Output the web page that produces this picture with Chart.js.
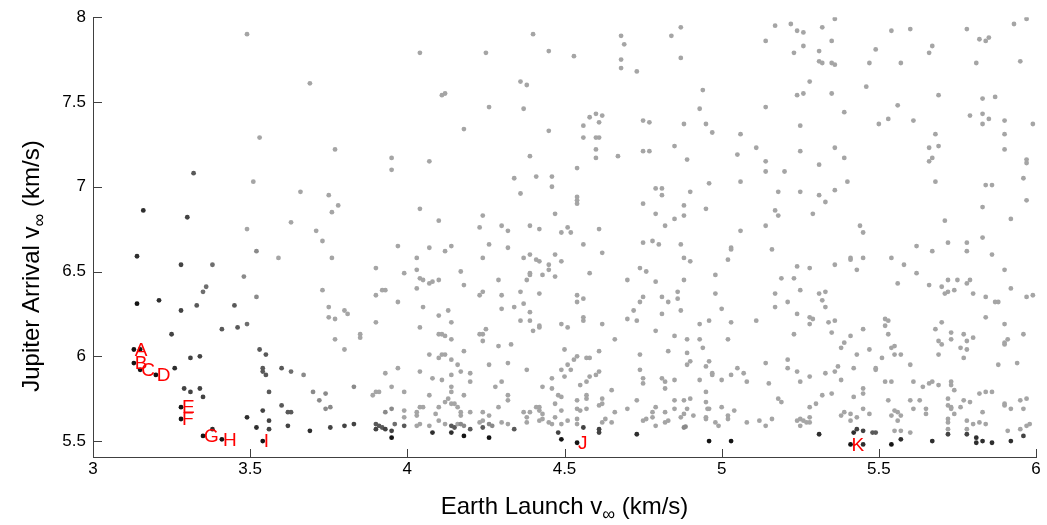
<!DOCTYPE html>
<html>
<head>
<meta charset="utf-8">
<script src="https://cdn.jsdelivr.net/npm/chart.js@4.4.1/dist/chart.umd.min.js"></script>
<style>
html,body{margin:0;padding:0;background:#fff;}
#wrap{width:1047px;height:525px;position:relative;}
</style>
</head>
<body>
<div id="wrap"><canvas id="c" width="1047" height="525"></canvas></div>
<script>
// ---------- data ----------
const xTicks = [3, 3.5, 4, 4.5, 5, 5.5, 6];
const yTicks = [5.5, 6, 6.5, 7, 7.5, 8];
const xTitle = ['Earth Launch v', '\u221E', ' (km/s)'];
const yTitle = ['Jupiter Arrival v', '\u221E', ' (km/s)'];

const frontLabels = ['A','B','C','D','E','F','G','H','I','J','K'];
const frontX = [3.13, 3.13, 3.15, 3.20, 3.28, 3.28, 3.35, 3.41, 3.54, 4.54, 5.41];
const frontY = [6.04, 5.96, 5.92, 5.89, 5.70, 5.63, 5.53, 5.51, 5.50, 5.49, 5.48];

const blackPts = [[3.13,6.04],[3.15,6.04],[3.13,5.96],[3.15,5.92],[3.20,5.89],[3.28,5.70],[3.28,5.63],[3.35,5.53],[3.41,5.51],[3.54,5.50],[3.14,6.31],[3.95,5.52],[4.18,5.53],[4.26,5.52],[4.49,5.51],[4.54,5.49],[4.96,5.50],[5.03,5.50],[5.41,5.48],[5.54,5.48]];
const dark1Pts = [[3.16,6.86],[3.14,6.59],[3.21,6.33],[3.26,5.93],[3.49,5.64],[3.52,5.58],[3.69,5.56],[4.08,5.55],[4.14,5.55],[4.73,5.54],[5.31,5.54],[5.42,5.55],[5.45,5.48],[5.57,5.51],[5.67,5.50],[5.81,5.52],[5.81,5.49],[5.83,5.50],[5.86,5.49],[5.92,5.50],[3.38,5.57]];
const dark2Pts = [[3.30,6.82],[3.28,6.54],[3.28,6.27],[3.25,6.13],[3.31,5.99],[3.34,6.00],[3.29,5.81],[3.31,5.79],[3.34,5.81],[3.35,5.76],[3.54,5.68],[3.56,5.62],[3.56,5.57],[3.62,5.59],[3.755,5.58],[3.80,5.59],[3.83,5.60],[3.90,5.57],[3.93,5.57],[3.95,5.56],[4.48,5.55],[4.56,5.58],[4.61,5.57],[4.61,5.55],[5.43,5.57],[5.45,5.56],[5.72,5.54],[5.78,5.54],[5.96,5.53]];
const midPts = [[3.32,7.08],[3.33,6.30],[3.45,6.30],[3.41,6.16],[3.46,6.17],[3.53,6.04],[3.55,6.01],[3.54,5.93],[3.54,5.91],[3.55,5.89],[3.56,5.79],[3.60,5.93],[3.60,5.71],[3.62,5.67],[3.63,5.67],[3.90,5.60],[3.91,5.59],[3.92,5.58],[3.99,5.59],[4.14,5.59],[4.15,5.58],[4.20,5.57],[4.24,5.58],[4.34,5.57],[5.48,5.55],[5.49,5.55]];
const mid2Pts = [[3.36,6.41],[3.35,6.38],[3.49,6.19],[3.63,5.91],[3.96,5.60],[3.38,6.54]];
const lightPts = [[3.67,5.89],[3.70,5.79],[3.72,5.74],[3.74,5.78],[3.74,5.69],[3.755,5.70],[3.48,6.47],[3.52,6.35],[3.52,6.62],[3.83,5.82],[3.93,5.67],[3.95,5.69],[4.17,5.60],[4.18,5.59],[4.26,5.60],[4.27,5.59],[4.88,5.58],[4.885,5.585]];
const grayPts = [
[3.49,7.90],[3.69,7.61],[3.53,7.29],
[4.40,7.90],[4.04,7.79],[4.25,7.79],[4.45,7.80],[4.36,7.62],[4.38,7.60],[4.11,7.54],[4.12,7.55],[4.26,7.47],[4.37,7.46],[4.18,7.34],[4.45,7.33],[3.77,7.22],[3.95,7.17],[4.07,7.15],[4.39,7.18],
[4.53,7.77],[4.68,7.89],[4.69,7.84],[4.68,7.75],[4.68,7.70],[4.73,7.68],[4.84,7.89],[4.87,7.94],[4.87,7.76],[5.17,7.95],[5.22,7.96],[5.24,7.92],[5.26,7.91],[5.14,7.86],[5.23,7.79],[5.26,7.83],[4.94,7.57],[4.93,7.46],[5.14,7.47],[5.24,7.54],[5.26,7.55],[4.58,7.41],[4.60,7.43],[4.62,7.42],[4.61,7.38],[4.56,7.36],[4.56,7.29],[4.60,7.29],[4.61,7.29],[4.60,7.22],[4.60,7.17],[4.67,7.18],[4.75,7.39],[4.77,7.38],[4.75,7.21],[4.77,7.21],[4.85,7.24],[4.88,7.37],[4.95,7.37],[4.97,7.32],[4.89,7.16],[5.06,7.31],[5.05,7.19],[5.11,7.23],[5.14,7.15],[5.25,7.36],[5.25,7.21],
[5.36,7.99],[5.32,7.94],[5.35,7.86],[5.31,7.80],[5.31,7.74],[5.32,7.73],[5.35,7.73],[5.36,7.72],[5.28,7.62],[5.35,7.55],[5.39,7.44],[5.36,7.23],[5.39,7.17],[5.31,7.13],[5.54,7.92],[5.60,7.93],[5.49,7.81],[5.47,7.73],[5.57,7.73],[5.46,7.59],[5.56,7.48],[5.50,7.37],[5.53,7.40],[5.61,7.39],[5.67,7.83],[5.66,7.79],[5.69,7.54],[5.68,7.31],[5.66,7.23],[5.69,7.24],[5.66,7.15],[5.67,7.17],[5.78,7.93],[5.82,7.87],[5.84,7.86],[5.85,7.88],[5.81,7.73],[5.93,7.96],[5.97,7.99],[5.95,7.74],[5.83,7.52],[5.87,7.53],[5.79,7.42],[5.83,7.43],[5.85,7.40],[5.83,7.37],[5.90,7.39],[5.90,7.31],[5.90,7.22],[5.99,7.37],[5.97,7.16],[5.97,7.14],
[3.51,7.03],[3.66,6.97],[3.75,6.95],[3.76,6.85],[3.49,6.75],[3.63,6.79],[3.71,6.74],[3.73,6.68],[3.59,6.58],[3.76,6.58],[3.73,6.39],[3.75,6.29],
[3.95,7.10],[3.78,6.89],[4.04,6.87],[4.10,6.80],[3.97,6.65],[3.90,6.52],[4.03,6.58],[4.07,6.64],[4.12,6.62],[4.14,6.65],[3.99,6.49],[4.03,6.51],[4.04,6.46],[4.05,6.45],[4.03,6.40],[4.07,6.43],[4.08,6.44],[4.10,6.45],[4.17,6.50],[4.18,6.42],[3.90,6.36],[3.92,6.39],[3.93,6.39],[3.97,6.32],[4.05,6.29],[3.80,6.27],[3.81,6.25],[4.13,6.27],[4.24,6.83],[4.23,6.76],[4.30,6.77],[4.32,6.74],[4.34,7.05],[4.36,6.96],[4.41,7.06],[4.46,7.06],[4.46,7.00],[4.47,6.84],[4.39,6.77],[4.42,6.75],[4.51,6.76],[4.49,6.73],[4.26,6.66],[4.32,6.64],[4.24,6.58],[4.37,6.58],[4.39,6.60],[4.41,6.57],[4.42,6.56],[4.45,6.54],[4.47,6.60],[4.49,6.56],[4.39,6.49],[4.39,6.48],[4.43,6.48],[4.45,6.51],[4.47,6.47],[4.29,6.45],[4.38,6.45],[4.24,6.38],[4.23,6.36],[4.30,6.36],[4.36,6.38],[4.42,6.37],[4.37,6.31],[4.30,6.28],[4.34,6.29],[4.39,6.26],
[4.54,7.11],[4.54,6.94],[4.54,6.92],[4.54,6.90],[4.52,6.73],[4.61,6.75],[4.56,6.66],[4.62,6.61],[4.58,6.49],[4.54,6.36],[4.54,6.32],[4.56,6.34],[4.79,6.99],[4.81,6.99],[4.81,6.95],[4.90,6.97],[4.96,7.02],[5.06,7.03],[5.14,7.09],[5.20,7.09],[5.18,6.97],[5.25,6.97],[4.75,6.90],[4.79,6.84],[4.88,6.89],[4.88,6.83],[4.85,6.81],[4.82,6.77],[4.95,6.87],[5.17,6.86],[5.18,6.83],[5.14,6.77],[5.06,6.74],[4.75,6.67],[4.78,6.68],[4.80,6.66],[4.87,6.66],[4.88,6.58],[4.90,6.56],[5.03,6.64],[5.03,6.63],[5.02,6.57],[5.16,6.63],[4.74,6.52],[4.76,6.50],[4.70,6.45],[4.79,6.44],[4.88,6.45],[4.98,6.48],[5.24,6.53],[5.23,6.46],[5.19,6.46],[5.25,6.39],[4.86,6.38],[4.75,6.35],[4.74,6.32],[4.81,6.35],[4.83,6.32],[4.86,6.34],[4.98,6.37],[5.17,6.37],[5.17,6.29],[5.21,6.32],[4.72,6.27],[4.87,6.27],[5.00,6.28],
[5.31,6.95],[5.36,6.98],[5.40,7.03],[5.33,6.91],[5.29,6.84],[5.44,6.77],[5.45,6.73],[5.68,7.03],[5.84,7.01],[5.86,7.01],[5.96,7.05],[5.97,6.92],[5.83,6.88],[5.92,6.81],[5.71,6.80],[5.72,6.67],[5.78,6.67],[5.78,6.62],[5.83,6.70],[5.86,6.60],[5.62,6.65],[5.67,6.62],[5.54,6.58],[5.58,6.54],[5.62,6.49],[5.56,6.43],[5.66,6.42],[5.70,6.41],[5.72,6.45],[5.75,6.45],[5.79,6.45],[5.78,6.43],[5.71,6.37],[5.72,6.38],[5.74,6.39],[5.80,6.37],[5.84,6.35],[5.87,6.32],[5.88,6.32],[5.90,6.51],[5.92,6.40],[5.97,6.35],[5.99,6.36],[5.28,6.52],[5.36,6.54],[5.41,6.58],[5.41,6.57],[5.45,6.58],[5.43,6.51],[5.31,6.37],[5.33,6.38],[5.32,6.33],[5.33,6.29],
[3.75,6.23],[3.77,6.22],[3.77,6.10],[3.80,6.04],[3.85,6.13],[3.85,6.11],[3.90,6.20],[3.89,5.77],[3.90,5.79],[3.91,5.79],[3.93,5.90],[3.97,5.93],[3.95,5.82],[3.99,5.79],[3.99,5.68],[3.99,5.64],[4.04,6.17],[4.10,6.24],[4.14,6.20],[4.10,6.13],[4.11,6.13],[4.12,6.12],[4.14,6.10],[4.18,6.03],[4.07,6.01],[4.10,5.99],[4.11,6.01],[4.12,6.01],[4.14,5.98],[4.16,5.95],[4.04,5.91],[4.14,5.89],[4.17,5.91],[4.20,5.90],[4.08,5.87],[4.11,5.86],[4.14,5.82],[4.14,5.79],[4.20,5.85],[4.18,5.77],[4.07,5.77],[4.13,5.75],[4.12,5.73],[4.14,5.72],[4.15,5.72],[4.10,5.70],[4.16,5.70],[4.04,5.70],[4.05,5.70],[4.03,5.67],[4.03,5.65],[4.09,5.66],[4.17,5.67],[4.17,5.65],[4.10,5.62],[4.12,5.60],[4.07,5.59],[4.03,5.59],[4.04,5.60],[4.16,5.60],[4.20,5.67],[4.23,5.61],[4.24,5.62],[4.24,5.67],[4.26,5.65],[4.30,5.61],[4.29,5.70],[4.28,5.82],[4.30,5.85],[4.26,5.95],[4.29,6.06],[4.25,6.16],[4.23,6.13],[4.24,6.13],[4.24,6.09],[4.33,6.07],[4.32,5.96],[4.36,6.21],[4.39,6.21],[4.42,6.18],[4.42,6.17],[4.40,6.15],[4.49,6.19],[4.51,6.17],[4.50,6.04],[4.51,5.95],[4.38,5.92],[4.32,5.77],[4.32,5.74],[4.43,5.82],[4.46,5.81],[4.46,5.87],[4.49,5.92],[4.50,5.88],[4.48,5.77],[4.49,5.76],[4.49,5.68],[4.47,5.72],[4.37,5.67],[4.38,5.64],[4.39,5.67],[4.41,5.70],[4.42,5.70],[4.42,5.68],[4.43,5.66],[4.38,5.61],[4.42,5.62],[4.43,5.63],[4.45,5.61],[4.46,5.60],[4.47,5.64],[4.49,5.60],[4.51,5.62],[4.32,5.60],
[4.56,6.23],[4.56,6.21],[4.62,6.19],[4.70,6.22],[4.73,6.21],[4.81,6.25],[4.66,6.10],[4.79,6.15],[4.93,6.19],[4.96,6.21],[5.03,6.20],[5.11,6.21],[5.24,6.25],[5.23,6.13],[4.85,6.12],[4.89,6.10],[4.93,6.10],[5.02,6.10],[4.94,6.05],[4.89,6.02],[4.83,6.03],[4.74,6.01],[4.61,6.03],[4.54,6.00],[4.53,5.98],[4.57,5.99],[4.58,5.99],[4.52,5.92],[4.61,5.91],[4.60,5.89],[4.58,5.88],[4.55,5.83],[4.57,5.85],[4.65,5.80],[4.57,5.77],[4.57,5.75],[4.54,5.74],[4.62,5.75],[4.62,5.72],[4.61,5.71],[4.54,5.69],[4.55,5.68],[4.57,5.69],[4.54,5.63],[4.54,5.60],[4.66,5.67],[4.63,5.63],[4.62,5.61],[4.65,5.61],[4.70,5.69],[4.73,5.74],[4.75,5.87],[4.75,5.84],[4.74,5.92],[4.75,5.62],[4.76,5.63],[4.78,5.67],[4.79,5.70],[4.78,5.64],[4.79,5.59],[4.81,5.87],[4.82,5.85],[4.82,5.81],[4.82,5.67],[4.82,5.61],[4.83,5.62],[4.85,5.86],[4.85,5.74],[4.85,5.69],[4.87,5.64],[4.88,5.66],[4.88,5.74],[4.89,5.69],[4.90,5.75],[4.89,5.95],[4.90,5.97],[4.91,5.65],[4.93,5.86],[4.95,5.94],[4.96,5.97],[4.97,5.90],[4.97,5.89],[4.95,5.79],[4.95,5.73],[4.955,5.69],[4.96,5.69],[4.95,5.64],[4.95,5.63],[4.98,5.61],[4.99,5.59],[5.00,5.70],[5.00,5.86],[5.03,5.89],[5.05,5.93],[5.07,5.90],[5.08,5.85],[5.02,5.65],[5.02,5.63],[5.04,5.68],[5.08,5.61],[5.12,5.62],[5.14,5.59],[5.16,5.63],[5.14,5.96],[5.15,5.84],[5.18,5.75],[5.19,5.73],[5.21,5.98],[5.21,5.93],[5.24,5.91],[5.25,5.85],[5.24,5.62],[5.25,5.59],[5.25,5.63],[5.26,5.62],
[5.28,6.23],[5.28,6.19],[5.29,6.22],[5.34,6.20],[5.36,6.21],[5.35,6.14],[5.41,6.12],[5.45,6.16],[5.39,6.08],[5.38,6.05],[5.43,6.01],[5.47,6.04],[5.51,5.99],[5.52,6.22],[5.53,6.21],[5.52,6.18],[5.53,6.13],[5.54,6.05],[5.55,6.06],[5.55,6.01],[5.57,6.01],[5.60,5.95],[5.68,6.16],[5.70,6.20],[5.69,6.09],[5.70,6.07],[5.69,6.01],[5.73,6.14],[5.73,6.10],[5.77,6.13],[5.78,6.09],[5.80,6.11],[5.76,6.05],[5.78,6.04],[5.77,5.99],[5.84,6.23],[5.90,6.19],[5.91,6.10],[5.90,6.08],[5.90,6.07],[5.96,6.13],[5.88,5.95],[5.94,5.96],[5.28,5.88],[5.33,5.90],[5.36,5.91],[5.37,5.94],[5.38,5.86],[5.42,5.93],[5.49,5.92],[5.49,5.93],[5.32,5.77],[5.35,5.78],[5.30,5.72],[5.28,5.70],[5.42,5.76],[5.45,5.81],[5.45,5.78],[5.45,5.69],[5.39,5.67],[5.38,5.65],[5.41,5.66],[5.41,5.62],[5.43,5.64],[5.47,5.66],[5.28,5.64],[5.28,5.61],[5.27,5.61],[5.52,5.85],[5.54,5.85],[5.53,5.74],[5.55,5.68],[5.56,5.67],[5.57,5.65],[5.56,5.62],[5.54,5.65],[5.55,5.56],[5.57,5.56],[5.60,5.55],[5.60,5.74],[5.61,5.69],[5.61,5.85],[5.63,5.74],[5.64,5.82],[5.65,5.69],[5.65,5.66],[5.66,5.84],[5.67,5.85],[5.69,5.83],[5.73,5.83],[5.73,5.85],[5.74,5.80],[5.72,5.75],[5.72,5.71],[5.73,5.70],[5.73,5.69],[5.74,5.66],[5.72,5.63],[5.72,5.61],[5.72,5.57],[5.76,5.70],[5.77,5.74],[5.79,5.73],[5.78,5.62],[5.78,5.57],[5.80,5.60],[5.82,5.61],[5.83,5.67],[5.84,5.60],[5.82,5.78],[5.84,5.79],[5.86,5.79],[5.90,5.72],[5.90,5.71],[5.92,5.69],[5.95,5.74],[5.97,5.75],[5.96,5.69],[5.91,5.56],[5.95,5.57],[5.97,5.59],[5.98,5.60]
];

// ---------- chart ----------
const FONT = "'Liberation Sans', Arial, Helvetica, sans-serif";
const toXY = arr => arr.map(p => ({x: p[0], y: p[1]}));
function ds(pts, color) {
  return { data: toXY(pts), backgroundColor: color, borderWidth: 0,
           pointRadius: 2.4, pointHoverRadius: 2.4, pointBorderWidth: 0 };
}

const axesPlugin = {
  id: 'matlabAxes',
  afterDraw(chart) {
    const ctx = chart.ctx, xs = chart.scales.x, ys = chart.scales.y;
    const L = xs.getPixelForValue(3), R = xs.getPixelForValue(6);
    const T = ys.getPixelForValue(8), B = ys.getPixelForValue(5.4);
    ctx.save();
    ctx.strokeStyle = '#404040';
    ctx.lineWidth = 1;
    ctx.beginPath();
    ctx.moveTo(Math.round(L) + 0.5, T);
    ctx.lineTo(Math.round(L) + 0.5, B);
    ctx.moveTo(L, Math.round(B) - 0.5);
    ctx.lineTo(R + 1, Math.round(B) - 0.5);
    xTicks.forEach(v => {
      const px = Math.round(xs.getPixelForValue(v)) + 0.5;
      ctx.moveTo(px, B); ctx.lineTo(px, B - 9);
    });
    yTicks.forEach(v => {
      const py = Math.round(ys.getPixelForValue(v)) + 0.5;
      ctx.moveTo(L, py); ctx.lineTo(L + 9, py);
    });
    ctx.stroke();

    // red front labels
    ctx.fillStyle = '#ff0000';
    ctx.font = '19px ' + FONT;
    ctx.textAlign = 'left';
    ctx.textBaseline = 'middle';
    frontLabels.forEach((t, i) => {
      ctx.fillText(t, xs.getPixelForValue(frontX[i]) + 1, ys.getPixelForValue(frontY[i]) + 1);
    });

    // axis titles with subscript infinity
    function drawTitle(parts, cx, baseY) {
      const big = '24px ' + FONT, small = '18px ' + FONT;
      ctx.font = big;
      const w0 = ctx.measureText(parts[0]).width;
      const w2 = ctx.measureText(parts[2]).width;
      ctx.font = small;
      const w1 = ctx.measureText(parts[1]).width;
      const total = w0 + w1 + w2;
      let x = cx - total / 2;
      ctx.fillStyle = '#000';
      ctx.textAlign = 'left';
      ctx.textBaseline = 'alphabetic';
      ctx.font = big;
      ctx.fillText(parts[0], x, baseY); x += w0;
      ctx.font = small;
      ctx.fillText(parts[1], x, baseY + 6); x += w1;
      ctx.font = big;
      ctx.fillText(parts[2], x, baseY);
    }
    drawTitle(xTitle, (L + R) / 2, 514);
    ctx.save();
    ctx.translate(39, 266);
    ctx.rotate(-Math.PI / 2);
    drawTitle(yTitle, 0, 0);
    ctx.restore();
    ctx.restore();
  }
};

new Chart(document.getElementById('c'), {
  type: 'scatter',
  data: {
    datasets: [
      ds(blackPts, '#141414'),
      ds(dark1Pts, '#2e2e2e'),
      ds(dark2Pts, '#434343'),
      ds(midPts, '#595959'),
      ds(mid2Pts, '#6e6e6e'),
      ds(lightPts, '#8a8a8a'),
      ds(grayPts, '#a5a5a5')
    ]
  },
  options: {
    responsive: false,
    animation: false,
    events: [],
    layout: { padding: { left: 0, right: 11, top: 16, bottom: 0 } },
    plugins: { legend: { display: false }, tooltip: { enabled: false } },
    scales: {
      x: {
        type: 'linear', min: 3, max: 6,
        afterBuildTicks: s => { s.ticks = xTicks.map(v => ({ value: v })); },
        afterFit: s => { s.height = 67; },
        grid: { display: false, drawTicks: false },
        border: { display: false },
        ticks: { color: '#000', font: { family: FONT, size: 17 }, padding: 1,
                 maxRotation: 0, autoSkip: false, callback: v => String(v) }
      },
      y: {
        type: 'linear', min: 5.4, max: 8,
        afterBuildTicks: s => { s.ticks = yTicks.map(v => ({ value: v })); },
        afterFit: s => { s.width = 93; },
        grid: { display: false, drawTicks: false },
        border: { display: false },
        ticks: { color: '#000', font: { family: FONT, size: 17 }, padding: 7,
                 autoSkip: false, callback: v => String(v) }
      }
    }
  },
  plugins: [axesPlugin]
});
</script>
</body>
</html>
